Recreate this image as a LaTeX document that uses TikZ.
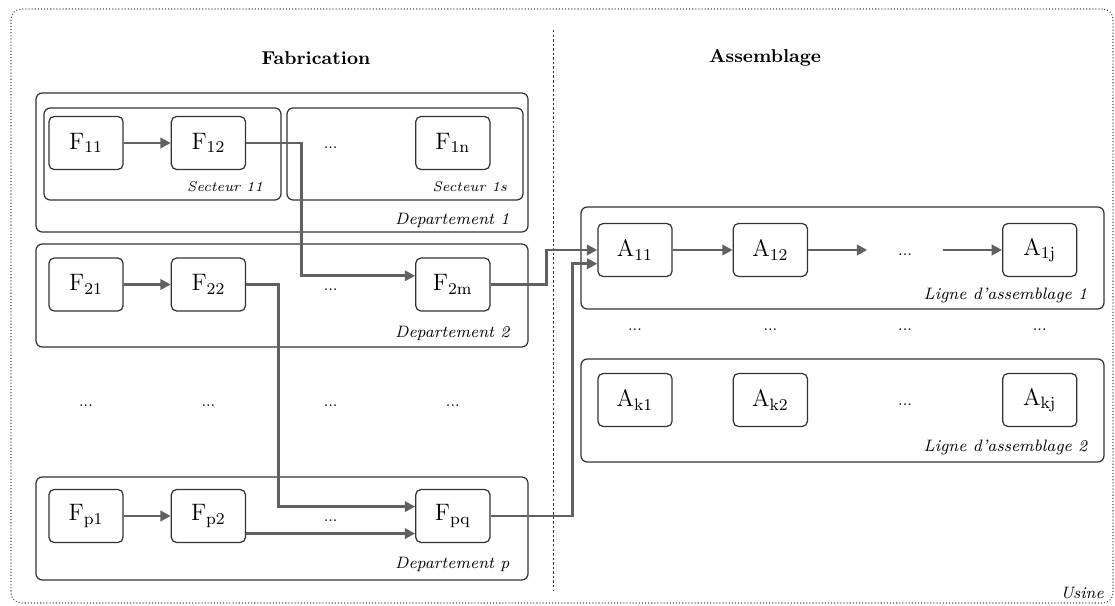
\documentclass[tikz,border=0pt]{standalone}
\usepackage{amsmath}
\usetikzlibrary{arrows.meta, positioning, fit, backgrounds, calc}

\begin{document}
\begin{tikzpicture}[
    x=0.017cm, y=-0.017cm,
    node distance=0.8cm,
    % === STYLES ===
    machine/.style={
        rectangle,
        draw=black!80,
        line width=0.6pt,
        rounded corners=2.5pt,
        minimum width=1.26cm,
        minimum height=0.9cm,
        inner sep=0pt,
        font=\fontsize{11.5}{13}\selectfont
    },
    group/.style={
        rectangle,
        draw=black!80,
        line width=0.6pt,
        rounded corners=3pt,
        inner sep=0pt
    },
    usinebox/.style={
        rectangle,
        draw=black!70,
        densely dotted,
        line width=0.5pt,
        rounded corners=5pt,
        inner sep=0pt
    },
    flow/.style={
        -{Triangle[length=5pt, width=5pt]},
        line width=1.4pt,
        color=black!62
    },
    divider/.style={
        draw=black!80,
        line width=0.4pt,
        dash pattern=on 1.2pt off 1pt
    },
    dots/.style={
        inner sep=0pt,
        yshift=-0.085cm,
        font=\fontsize{7.5}{9}\selectfont
    },
    title/.style={
        font=\fontsize{9}{11}\selectfont\bfseries
    },
    grouplabel/.style={
        font=\fontsize{8}{10}\selectfont\itshape,
        anchor=base east
    },
    seclabel/.style={
        font=\fontsize{6.8}{8}\selectfont\itshape,
        anchor=base east
    }
]
\useasboundingbox (0,0) rectangle (1115,606);

% === TITLES ===
\node[title] (fabtitle) at (316,58) {Fabrication};
\node[title] (asstitle) at (765,58) {Assemblage};

\coordinate (divtop) at (553,30);
\coordinate (divbot) at (553,590);
\draw[divider] (divtop) -- (divbot);

% === FABRICATION: DEPARTEMENT 1 ===
\node[machine] (f11) at (86,143) {F$_{11}$};
\node[machine, right=of f11] (f12) {F$_{12}$};
\node[machine, right=2.873cm of f12] (f1n) {F$_{1\mathrm{n}}$};
\node[dots] (f1dots) at ($(f12)!0.5!(f1n)$) {...};

% === FABRICATION: DEPARTEMENT 2 ===
\node[machine] (f21) at (86,284.5) {F$_{21}$};
\node[machine, right=of f21] (f22) {F$_{22}$};
\node[machine, right=2.873cm of f22] (f2m) {F$_{2\mathrm{m}}$};
\node[dots] (f2dots) at ($(f22)!0.5!(f2m)$) {...};

% === FABRICATION: DEPARTEMENT p ===
\node[machine] (fp1) at (86,516) {F$_{\mathrm{p}1}$};
\node[machine, right=of fp1] (fp2) {F$_{\mathrm{p}2}$};
\node[machine, right=2.873cm of fp2] (fpq) {F$_{\mathrm{pq}}$};
\node[dots] (fpdots) at ($(fp2)!0.5!(fpq)$) {...};

% gap between departements
\coordinate (fgaprow) at ($(f21)!0.5!(fp1)$);
\node[dots] (fgap1) at (fgaprow -| f11) {...};
\node[dots] (fgap2) at (fgaprow -| f12) {...};
\node[dots] (fgap3) at (fgaprow -| f1dots) {...};
\node[dots] (fgap4) at (fgaprow -| f1n) {...};

% === ASSEMBLAGE: LIGNE 1 ===
\node[machine] (a11) at (635,250) {A$_{11}$};
\node[machine, right=1.02cm of a11] (a12) {A$_{12}$};
\node[machine, right=3.298cm of a12] (a1j) {A$_{1\mathrm{j}}$};
\node[dots, minimum width=1.27cm] (a1dots) at ($(a12)!0.5!(a1j)$) {...};

% === ASSEMBLAGE: LIGNE 2 ===
\node[machine] (ak1) at (635,400) {A$_{\mathrm{k}1}$};
\node[machine, right=1.02cm of ak1] (ak2) {A$_{\mathrm{k}2}$};
\node[machine, right=3.298cm of ak2] (akj) {A$_{\mathrm{kj}}$};
\node[dots] (akdots) at ($(ak2)!0.5!(akj)$) {...};

% gap between lignes
\coordinate (agaprow) at ($(a11)!0.5!(ak1)$);
\node[dots] (agap1) at (agaprow -| a11) {...};
\node[dots] (agap2) at (agaprow -| a12) {...};
\node[dots] (agap3) at (agaprow -| a1dots) {...};
\node[dots] (agap4) at (agaprow -| a1j) {...};

% === CONNECTIONS ===
\draw[flow] (f11.east) -- (f12.west);
\draw[flow] (f21.east) -- (f22.west);
\draw[flow] (fp1.east) -- (fp2.west);
\draw[flow] (f12.east) -- ++(55,0) |- (f2m.167);
\draw[flow] (f22.east) -- ++(32,0) |- (fpq.166);
\draw[flow] (fp2.335) -- (fpq.205);

% Fabrication to Assemblage
\draw[flow] (f2m.east) -- ++(56,0) |- (a11.west);
\draw[flow] (fpq.east) -- ++(82,0) |- (a11.200);

% Ligne 1
\draw[flow] (a11.east) -- (a12.west);
\draw[flow] (a12.east) -- (a12.east -| a1dots.west);
\draw[flow] (a1j.west -| a1dots.east) -- (a1j.west);

% === BACKGROUND GROUPINGS ===
\begin{scope}[on background layer]
    \node[usinebox, fit={(11,9) (1113,603)}] (usine) {};
    \node[group, fit={(36,93) (528,232)}] (dep1) {};
    \node[group, fit={(44,108) (281,200)}] (sec11) {};
    \node[group, fit={(287,108) (523,200)}] (sec1s) {};
    \node[group, fit={(36,244) (528,347)}] (dep2) {};
    \node[group, fit={(36,477) (528,580)}] (depp) {};
    \node[group, fit={(581,207) (1104,309)}] (lig1) {};
    \node[group, fit={(581,359) (1104,462)}] (lig2) {};
\end{scope}

% === ANNOTATIONS ===
\node[seclabel] (sec11lab) at ([xshift=-0.19cm, yshift=0.155cm]sec11.south east) {Secteur 11};
\node[seclabel] (sec1slab) at ([xshift=-0.16cm, yshift=0.155cm]sec1s.south east) {Secteur 1s};
\node[grouplabel] (dep1lab) at ([xshift=-0.2cm, yshift=0.14cm]dep1.south east) {Departement 1};
\node[grouplabel] (dep2lab) at ([xshift=-0.2cm, yshift=0.17cm]dep2.south east) {Departement 2};
\node[grouplabel] (depplab) at ([xshift=-0.2cm, yshift=0.2cm]depp.south east) {Departement p};
\node[grouplabel] (lig1lab) at ([xshift=-0.17cm, yshift=0.17cm]lig1.south east) {Ligne d'assemblage 1};
\node[grouplabel] (lig2lab) at ([xshift=-0.17cm, yshift=0.19cm]lig2.south east) {Ligne d'assemblage 2};
\node[grouplabel] (usinelab) at ([xshift=-0.04cm, yshift=0.09cm]usine.south east) {Usine};

\end{tikzpicture}
\end{document}
